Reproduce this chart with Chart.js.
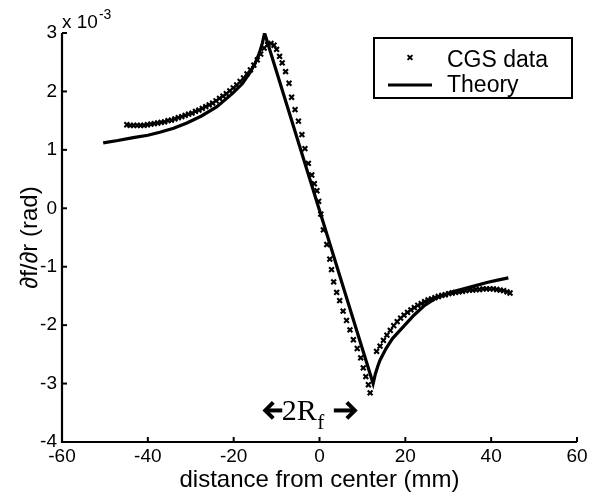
<!DOCTYPE html>
<html><head><meta charset="utf-8">
<script src="https://cdn.jsdelivr.net/npm/chart.js@4/dist/chart.umd.min.js"></script>
<style>html,body{margin:0;padding:0;background:#fff;}#wrap{width:593px;height:493px;}</style>
</head><body><div id="wrap"><canvas id="c" width="593" height="493"></canvas></div>
<script>
// ---- data ----
const cgsX = [-44.9,-44.1,-43.3,-42.5,-41.7,-40.9,-40.1,-39.3,-38.5,-37.7,-36.9,-36.1,-35.3,-34.5,-33.7,-32.9,-32.1,-31.3,-30.5,-29.7,-28.9,-28.1,-27.3,-26.5,-25.7,-24.9,-24.1,-23.3,-22.5,-21.7,-20.9,-20.1,-19.3,-18.5,-17.7,-16.9,-16.1,-15.3,-14.5,-13.7,-12.9,-12.1,-11.3,-10.6,
  -10.0,-9.3,-8.7,-7.9,-7.1,-6.5,-5.7,-4.9,-4.1,-3.4,-2.6,-1.8,-1.2,-0.6,-0.2,0.3,0.9,1.7,2.4,2.8,3.3,4.0,4.7,5.5,6.3,7.1,7.9,8.8,9.6,10.2,10.8,11.4,11.8,
  13.3,14.1,14.9,15.7,16.5,17.3,18.1,18.9,19.7,20.5,21.3,22.1,22.9,23.7,24.5,25.3,26.1,26.9,27.7,28.5,29.3,30.1,30.9,31.7,32.5,33.3,34.1,34.9,35.7,36.5,37.3,38.1,38.9,39.7,40.5,41.3,42.1,42.9,43.7,44.4];
const cgsY = [1.43,1.42,1.42,1.42,1.42,1.42,1.43,1.44,1.45,1.46,1.47,1.48,1.50,1.51,1.53,1.55,1.57,1.59,1.61,1.63,1.66,1.68,1.71,1.74,1.77,1.80,1.84,1.88,1.92,1.96,2.01,2.06,2.11,2.17,2.23,2.30,2.37,2.45,2.54,2.64,2.74,2.80,2.82,2.79,
  2.72,2.60,2.49,2.34,2.14,1.90,1.69,1.49,1.26,1.02,0.77,0.57,0.42,0.30,0.12,-0.10,-0.37,-0.62,-0.87,-1.05,-1.26,-1.44,-1.58,-1.76,-1.92,-2.08,-2.25,-2.40,-2.56,-2.73,-2.88,-3.02,-3.16,
  -2.45,-2.36,-2.26,-2.17,-2.09,-2.01,-1.94,-1.88,-1.83,-1.78,-1.74,-1.70,-1.66,-1.63,-1.60,-1.57,-1.55,-1.53,-1.51,-1.49,-1.48,-1.46,-1.45,-1.44,-1.43,-1.42,-1.41,-1.40,-1.40,-1.39,-1.39,-1.38,-1.38,-1.38,-1.38,-1.39,-1.40,-1.41,-1.43,-1.45];
const theoryX = [-50.4,-47.0,-43.4,-40.0,-37.2,-34.0,-30.9,-27.5,-23.9,-20.2,-18.0,-16.2,-15.0,-14.0,-13.3,-12.8,12.5,13.0,13.6,14.1,15.5,17.0,19.5,22.0,24.5,27.3,31.0,35.1,39.0,41.5,44.0];
const theoryY = [1.12,1.16,1.21,1.25,1.30,1.37,1.46,1.58,1.74,1.97,2.13,2.32,2.48,2.66,2.83,3.00,-3.00,-2.84,-2.70,-2.60,-2.40,-2.23,-2.03,-1.83,-1.66,-1.53,-1.43,-1.35,-1.27,-1.23,-1.19];
const xTicks = [-60,-40,-20,0,20,40,60];
const yTicks = [-4,-3,-2,-1,0,1,2,3];
const seriesNames = ['CGS data','Theory'];
const xTitle = 'distance from center (mm)';
const yTitle = '\u2202f/\u2202r (rad)';
const expLabel = ['x 10','-3'];
const spanLabel = {x1:-13.1, x2:8.7, y:-3.46, textX:-8.8};

const SANS = '"Liberation Sans", Arial, Helvetica, sans-serif';
const SERIF = '"Liberation Serif", "Times New Roman", serif';

const pts = (xs, ys) => xs.map((x,i)=>({x:x, y:ys[i]}));

const decor = {
  id:'decor',
  afterDraw(chart){
    const ctx = chart.ctx, xs = chart.scales.x, ys = chart.scales.y;
    const a = chart.chartArea;
    ctx.save();
    ctx.strokeStyle = '#000'; ctx.fillStyle = '#000';
    // inward ticks
    ctx.lineWidth = 2;
    xTicks.forEach(v=>{ const p = xs.getPixelForValue(v); ctx.beginPath(); ctx.moveTo(p, a.bottom); ctx.lineTo(p, a.bottom-5); ctx.stroke(); });
    yTicks.forEach(v=>{ const p = ys.getPixelForValue(v); ctx.beginPath(); ctx.moveTo(a.left, p); ctx.lineTo(a.left+5, p); ctx.stroke(); });
    // axis lines
    ctx.lineWidth = 2.2;
    ctx.beginPath(); ctx.moveTo(a.left, a.top); ctx.lineTo(a.left, a.bottom); ctx.lineTo(a.right, a.bottom); ctx.stroke();
    // exponent label
    ctx.textBaseline = 'alphabetic'; ctx.textAlign = 'left';
    ctx.font = '19px ' + SANS;
    ctx.fillText(expLabel[0], a.left, a.top - 5);
    const w = ctx.measureText(expLabel[0]).width;
    ctx.font = '14px ' + SANS;
    ctx.fillText(expLabel[1], a.left + w + 1, a.top - 14);
    // legend
    const L = {l:374, t:38, r:572, b:98};
    ctx.lineWidth = 2;
    ctx.strokeRect(L.l, L.t, L.r-L.l, L.b-L.t);
    ctx.font = '23px ' + SANS;
    ctx.fillText(seriesNames[0], 447, 66.5);
    ctx.fillText(seriesNames[1], 447, 91.5);
    // legend marker
    ctx.lineWidth = 2;
    const mx = 410, my = 57.5, d = 2.4;
    ctx.beginPath(); ctx.moveTo(mx-d,my-d); ctx.lineTo(mx+d,my+d); ctx.moveTo(mx+d,my-d); ctx.lineTo(mx-d,my+d); ctx.stroke();
    // legend line
    ctx.lineWidth = 3;
    ctx.beginPath(); ctx.moveTo(388, 85); ctx.lineTo(432, 85); ctx.stroke();
    // 2R_f annotation with arrows
    const ay = ys.getPixelForValue(spanLabel.y);
    const lx = xs.getPixelForValue(spanLabel.x1);
    const rx = xs.getPixelForValue(spanLabel.x2);
    const tx = xs.getPixelForValue(spanLabel.textX);
    ctx.lineWidth = 4; ctx.lineJoin = 'miter'; ctx.lineCap = 'butt';
    ctx.beginPath(); ctx.moveTo(lx+2, ay); ctx.lineTo(lx+19, ay); ctx.stroke();
    ctx.beginPath(); ctx.moveTo(lx+10, ay-8); ctx.lineTo(lx+2, ay); ctx.lineTo(lx+10, ay+8); ctx.stroke();
    ctx.beginPath(); ctx.moveTo(rx-2, ay); ctx.lineTo(rx-23, ay); ctx.stroke();
    ctx.beginPath(); ctx.moveTo(rx-10, ay-8); ctx.lineTo(rx-2, ay); ctx.lineTo(rx-10, ay+8); ctx.stroke();
    ctx.font = '30px ' + SERIF;
    ctx.textAlign = 'left'; ctx.textBaseline = 'alphabetic';
    ctx.fillText('2R', tx, ay + 9.5);
    const w2 = ctx.measureText('2R').width;
    ctx.font = '21px ' + SERIF;
    ctx.fillText('f', tx + w2 + 0.5, ay + 19);
    ctx.restore();
  }
};

new Chart(document.getElementById('c'), {
  type:'scatter',
  data:{ datasets:[
    { label:seriesNames[0], data:pts(cgsX,cgsY), showLine:false, pointStyle:'crossRot', pointRadius:3.4, borderColor:'#000', backgroundColor:'#000', pointBorderWidth:2.1, order:2 },
    { label:seriesNames[1], data:pts(theoryX,theoryY), showLine:true, pointRadius:0, borderColor:'#000', borderWidth:3.2, tension:0, order:1 }
  ]},
  options:{
    responsive:false, animation:false, devicePixelRatio:1,
    layout:{ padding:{ left:0, right:16, top:33, bottom:0 } },
    plugins:{ legend:{display:false}, tooltip:{enabled:false} },
    scales:{
      x:{ type:'linear', min:-60, max:60,
          afterBuildTicks(s){ s.ticks = xTicks.map(v=>({value:v})); },
          afterFit(s){ s.height = 51; },
          grid:{display:false, drawTicks:false}, border:{display:false},
          ticks:{ color:'#000', font:{family:SANS, size:19}, padding:3, maxRotation:0, autoSkip:false },
          title:{ display:true, text:xTitle, color:'#000', font:{family:SANS, size:24, lineHeight:1.0}, padding:{top:0,bottom:1} } },
      y:{ type:'linear', min:-4, max:3,
          afterBuildTicks(s){ s.ticks = yTicks.map(v=>({value:v})); },
          afterFit(s){ s.width = 62; },
          grid:{display:false, drawTicks:false}, border:{display:false},
          ticks:{ color:'#000', font:{family:SANS, size:19}, padding:5, autoSkip:false },
          title:{ display:true, text:yTitle, color:'#000', font:{family:SANS, size:24, lineHeight:1.0}, padding:{top:18,bottom:0} } }
    }
  },
  plugins:[decor]
});
</script></body></html>
